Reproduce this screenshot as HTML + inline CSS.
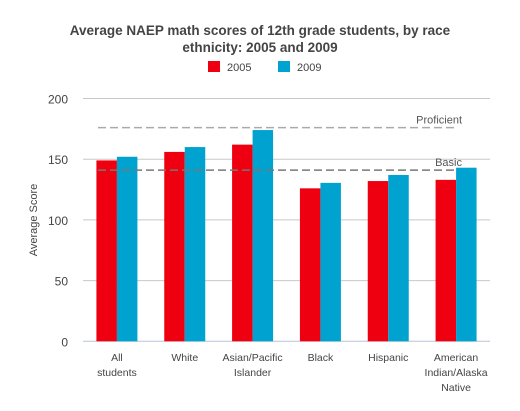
<!DOCTYPE html>
<html><head><meta charset="utf-8"><style>
body{margin:0;background:#fff;font-family:"Liberation Sans",sans-serif;}
</style></head><body>
<svg width="520" height="406" xmlns="http://www.w3.org/2000/svg" font-family="Liberation Sans, sans-serif">
<text x="260" y="35" text-anchor="middle" font-size="13.5" font-weight="bold" fill="#444">Average NAEP math scores of 12th grade students, by race</text>
<text x="260" y="52" text-anchor="middle" font-size="13.5" font-weight="bold" fill="#444">ethnicity: 2005 and 2009</text>
<g>
<rect x="208" y="61" width="12" height="11" fill="#ee0011"/>
<text x="227" y="71" font-size="11" fill="#444">2005</text>
<rect x="278" y="61" width="12" height="11" fill="#00a3d0"/>
<text x="297" y="71" font-size="11" fill="#444">2009</text>
</g>
<text transform="translate(37,220) rotate(-90)" text-anchor="middle" font-size="11" fill="#444">Average Score</text>
<g id="plot"></g>
</svg>
<script>
const categories=[["All","students"],["White"],["Asian/Pacific","Islander"],["Black"],["Hispanic"],["American","Indian/Alaska","Native"]];
const values2005=[149,156,162,126,132,133];
const values2009=[152,160,174,130.5,137,143];
const yTicks=[0,50,100,150,200];
const refLines=[{label:"Proficient",value:176},{label:"Basic",value:141}];
const NS="http://www.w3.org/2000/svg";
const g=document.getElementById('plot');
const x0=83,x1=490,yBase=341.3,yTop=98.5,yMax=200;
const y=v=>yBase-(v/yMax)*(yBase-yTop);
const band=(x1-x0)/categories.length;
const bw=20.5;
function el(t,a,txt){const e=document.createElementNS(NS,t);for(const k in a)e.setAttribute(k,a[k]);if(txt!=null)e.textContent=txt;g.appendChild(e);return e;}
yTicks.forEach(t=>{
 const l=el('line',{x1:x0,x2:x1,y1:y(t),y2:y(t),stroke:t===0?'#b8c4d6':'#c8c8c8','stroke-width':1});
 
 
 const tx=el('text',{x:68,y:y(t)+5,'text-anchor':'end','font-size':12,fill:'#444'},String(t));
 
 
});
categories.forEach((c,i)=>{
 const cx=x0+band*(i+0.5);
 const b1=el('rect',{x:cx-bw,y:y(values2005[i]),width:bw,height:yBase-y(values2005[i]),fill:'#ee0011'});
 
 
 const b2=el('rect',{x:cx,y:y(values2009[i]),width:bw,height:yBase-y(values2009[i]),fill:'#00a3d0'});
 
 
 c.forEach((ln,j)=>{
  const t=el('text',{x:cx,y:361+j*15,'text-anchor':'middle','font-size':10.5,fill:'#444'},ln);
  
  
 });
});
refLines.forEach((r,i)=>{
 const l=el('line',{x1:98,x2:455,y1:y(r.value),y2:y(r.value),stroke:i===0?'#aaa':'#777','stroke-width':1.5,'stroke-dasharray':'8,4'});
 
 
 const t=el('text',{x:462,y:y(r.value)-4,'text-anchor':'end','font-size':11,fill:'#555'},r.label);
 
 
});
</script>
</body></html>
